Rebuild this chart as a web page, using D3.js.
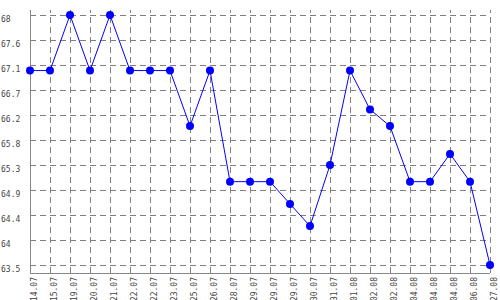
<html>
  <head>
    <title>Line chart</title>
    <style type="text/css">
body { margin: 0; background: #fff; }
#chart text {
  font-family: "DejaVu Sans Mono", monospace;
  font-size: 8px;
  fill: #444;
}
.grid line {
  stroke: #808080;
  stroke-dasharray: 6,4;
  shape-rendering: crispEdges;
}
.grid .domain { display: none; }
.axis-line {
  stroke: #888;
  shape-rendering: crispEdges;
}
    </style>
    <script type="text/javascript" src="https://cdn.jsdelivr.net/npm/d3@7"></script>
  </head>
  <body>
    <div id="chart"></div>
    <script type="text/javascript">
// Data
var dates = ["14.07", "15.07", "19.07", "20.07", "21.07", "22.07", "22.07", "23.07",
             "25.07", "26.07", "28.07", "29.07", "29.07", "29.07", "30.07", "31.07",
             "01.08", "02.08", "02.08", "04.08", "04.08", "04.08", "06.08", "27.08"];
var values = [67.0, 67.0, 68.0, 67.0, 68.0, 67.0, 67.0, 67.0,
              66.0, 67.0, 65.0, 65.0, 65.0, 64.6, 64.2, 65.3,
              67.0, 66.3, 66.0, 65.0, 65.0, 65.5, 65.0, 63.5];
var yTicks = [63.5, 63.95, 64.4, 64.85, 65.3, 65.75, 66.2, 66.65, 67.1, 67.55, 68];
var yTickLabels = ["63.5", "64", "64.4", "64.9", "65.3", "65.8", "66.2", "66.7", "67.1", "67.6", "68"];

// Constants
var w = 500, h = 300;
var plotLeft = 30, plotRight = 490, plotTop = 10, plotBottom = 273;

var svg = d3.select("#chart").append("svg")
     .attr("width", w)
     .attr("height", h);

var x = d3.scalePoint()
     .domain(d3.range(dates.length))
     .range([plotLeft, plotRight]);
var y = d3.scaleLinear()
     .domain([63.5, 68])
     .range([265, 15]);

// horizontal grid
svg.append("g")
     .attr("class", "grid")
     .attr("transform", "translate(" + plotLeft + ",0)")
     .call(d3.axisRight(y).tickValues(yTicks).tickSize(plotRight - plotLeft).tickFormat(""));

// vertical grid
svg.append("g")
     .attr("class", "grid")
     .attr("transform", "translate(0," + plotBottom + ")")
     .call(d3.axisBottom(x).tickSize(-(plotBottom - plotTop)).tickFormat(""));

// y labels
var yAxis = svg.append("g")
     .attr("transform", "translate(" + plotLeft + ",0)")
     .call(d3.axisLeft(y).tickValues(yTicks).tickSize(0)
       .tickFormat(function(d, i) { return yTickLabels[i]; }));
yAxis.select(".domain").remove();
yAxis.selectAll("text")
     .attr("x", -29)
     .attr("y", 4)
     .attr("text-anchor", "start");

// x labels
var xAxis = svg.append("g")
     .attr("transform", "translate(0," + plotBottom + ")")
     .call(d3.axisBottom(x).tickSize(0)
       .tickFormat(function(i) { return dates[i]; }));
xAxis.select(".domain").remove();
xAxis.selectAll("text")
     .attr("transform", "rotate(-90)")
     .attr("x", -4)
     .attr("y", 6.5)
     .attr("dy", 0)
     .attr("text-anchor", "end");

// axis lines
svg.append("line").attr("class", "axis-line")
     .attr("x1", plotLeft).attr("x2", plotLeft).attr("y1", plotTop).attr("y2", plotBottom);
svg.append("line").attr("class", "axis-line")
     .attr("x1", plotLeft).attr("x2", plotRight).attr("y1", plotBottom).attr("y2", plotBottom);

// series
var line = d3.line()
     .x(function(d, i) { return x(i); })
     .y(function(d) { return y(d); });

svg.append("path")
     .datum(values)
     .attr("fill", "none")
     .attr("stroke", "#0000ff")
     .attr("stroke-width", 1)
     .attr("d", line);

svg.selectAll(".dot")
     .data(values)
     .enter().append("circle")
     .attr("class", "dot")
     .attr("cx", function(d, i) { return x(i); })
     .attr("cy", function(d) { return y(d); })
     .attr("r", 4)
     .attr("fill", "#0000ff");
    </script>
  </body>
</html>
